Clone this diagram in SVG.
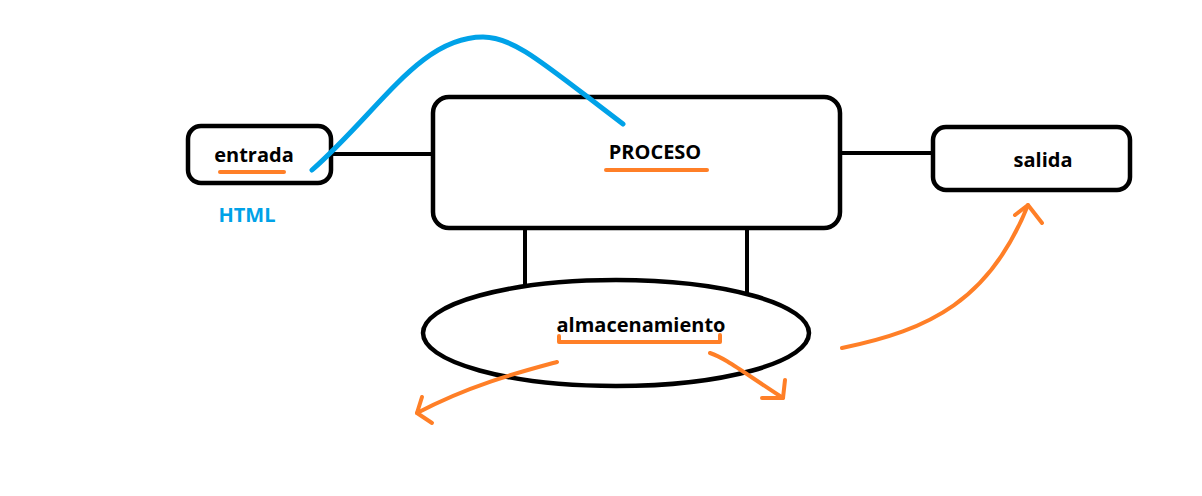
<svg xmlns="http://www.w3.org/2000/svg" width="1202" height="496" viewBox="0 0 1202 496">
<style>
.box{fill:#fff;stroke:#000;stroke-width:4.5}
.t{font-family:"Open Sans","Liberation Sans",sans-serif;font-weight:bold;font-size:20px;fill:#000;text-anchor:middle}
.or{fill:none;stroke:#ff7f27;stroke-width:4;stroke-linecap:round;stroke-linejoin:round}
.ln{fill:none;stroke:#000;stroke-width:4}
</style>
<rect width="1202" height="496" fill="#fff"/>
<g id="connectors">
<line class="ln" x1="331" y1="154" x2="434" y2="154"/>
<line class="ln" x1="840" y1="153" x2="934" y2="153"/>
<line class="ln" x1="525" y1="228" x2="525" y2="288"/>
<line class="ln" x1="747" y1="228" x2="747" y2="294"/>
</g>
<g id="entrada">
<rect class="box" x="188" y="126" width="143" height="57" rx="13"/>
<text class="t" x="254" y="162">entrada</text>
<line class="or" x1="220" y1="172" x2="284" y2="172"/>
</g>
<g id="proceso">
<rect class="box" x="433" y="97" width="407" height="131" rx="16"/>
<text class="t" x="655" y="159">PROCESO</text>
<line class="or" x1="606" y1="170" x2="707" y2="170"/>
</g>
<g id="salida">
<rect class="box" x="933" y="127" width="197" height="63" rx="13"/>
<text class="t" x="1043" y="167">salida</text>
</g>
<g id="almacenamiento">
<ellipse cx="616" cy="333" rx="193" ry="53" fill="#fff" stroke="#000" stroke-width="4.5"/>
<text class="t" x="641" y="332">almacenamiento</text>
<path class="or" d="M559,336 V342 H720 V335"/>
</g>
<g id="html-label">
<text class="t" x="247" y="222" style="fill:#00a2e8">HTML</text>
<path d="M312,170 C380,110 420,37 483,37 C515,37 545,65 623,124" fill="none" stroke="#00a2e8" stroke-width="5" stroke-linecap="round"/>
</g>
<g id="arrows">
<path class="or" d="M557,362 C520,372 470,385 417,413"/>
<path class="or" d="M422,397 L417,413 L432,423"/>
<path class="or" d="M710,353 C725,358 740,370 783,398"/>
<path class="or" d="M785,380 L783,398 L762,398"/>
<path class="or" d="M842,348 C930,330 990,300 1028,205"/>
<path class="or" d="M1015,215 L1028,205 L1042,223"/>
</g>
</svg>
